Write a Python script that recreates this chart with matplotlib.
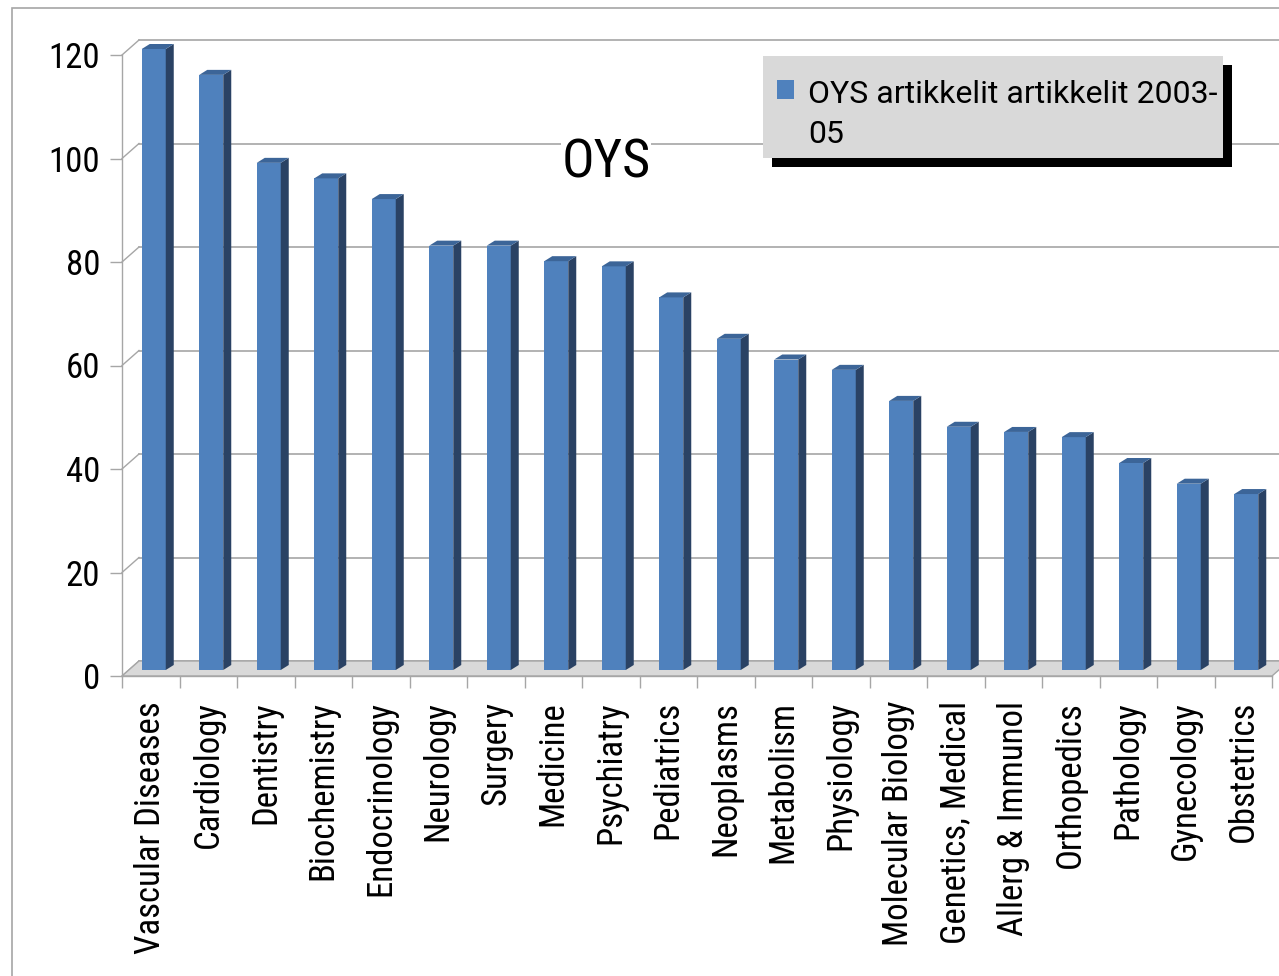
import matplotlib
matplotlib.use("Agg")
import matplotlib.pyplot as plt
from matplotlib.patches import Polygon, Rectangle
import numpy as np

categories = ["Vascular Diseases", "Cardiology", "Dentistry", "Biochemistry", "Endocrinology",
              "Neurology", "Surgery", "Medicine", "Psychiatry", "Pediatrics", "Neoplasms",
              "Metabolism", "Physiology", "Molecular Biology", "Genetics, Medical",
              "Allerg & Immunol", "Orthopedics", "Pathology", "Gynecology", "Obstetrics"]
articles = [120, 115, 98, 95, 91, 82, 82, 79, 78, 72, 64, 60, 58, 52, 47, 46, 45, 40, 36, 34]
yticks = [0, 20, 40, 60, 80, 100, 120]
series_label = "OYS artikkelit artikkelit 2003-\n05"
title = "OYS"

W, H, DPI = 1279, 976, 100
PX_X, PX_Y = 57.5, 5.175          # pixels per category / per unit on the front plane
DX, DY = 17 / PX_X, 15 / PX_Y     # depth of the back wall
B0, BSHIFT = 6 / PX_Y, 3 / PX_X   # bars sit a bit behind the front edge
BW, SDX, SDY = 24 / PX_X, 8 / PX_X, 5 / PX_Y
GRID = "#A6A6A6"
FRONT, SIDE, TOP = "#4F81BD", "#2A4264", "#3C6598"

plt.rcParams["font.family"] = ["Roboto Condensed", "DejaVu Sans"]

fig = plt.figure(figsize=(W / DPI, H / DPI), dpi=DPI)
ax = fig.add_axes([122 / W, 300 / H, 1150 / W, 621 / H])
n = len(categories)
x = np.arange(n)
ax.set_xlim(-0.5, n - 0.5)
ax.set_ylim(0, 120)

# back wall gridlines + slanted side-wall lines
for v in yticks:
    ax.plot([-0.5 + DX, n - 0.5 + DX], [v + DY, v + DY], color=GRID, lw=1.2, zorder=0.5, clip_on=False)
    ax.plot([-0.5, -0.5 + DX], [v, v + DY], color=GRID, lw=1.0, zorder=0.5, clip_on=False)

# floor
ax.add_patch(Polygon([(-0.5, 0), (n - 0.5, 0), (n - 0.5 + DX, DY), (-0.5 + DX, DY)],
                     closed=True, fc="#D9D9D9", ec=GRID, lw=1.0, zorder=1, clip_on=False))

# bars: front face from ax.bar, side + top faces from the same values
ax.bar(x + BSHIFT, articles, BW, bottom=B0, color=FRONT, zorder=3, clip_on=False)
for xi, v in zip(x, articles):
    xl, xr, top = xi + BSHIFT - BW / 2, xi + BSHIFT + BW / 2, v + B0
    ax.add_patch(Polygon([(xr, B0), (xr + SDX, B0 + SDY), (xr + SDX, top + SDY), (xr, top)],
                         closed=True, fc=SIDE, ec="none", zorder=3, clip_on=False))
    ax.add_patch(Polygon([(xl, top), (xr, top), (xr + SDX, top + SDY), (xl + SDX, top + SDY)],
                         closed=True, fc=TOP, ec="none", zorder=3, clip_on=False))

for s in ("top", "right"):
    ax.spines[s].set_visible(False)
for s in ("left", "bottom"):
    ax.spines[s].set_color(GRID)
    ax.spines[s].set_linewidth(1.0)

ax.set_yticks(yticks)
ax.tick_params(axis="y", length=8.6, width=1, color=GRID, pad=7, labelsize=25)
ax.set_xticks(x, categories, rotation=90)
ax.set_xticks(np.arange(n + 1) - 0.5, minor=True)
ax.tick_params(axis="x", which="major", length=0, pad=18, labelsize=25)
ax.tick_params(axis="x", which="minor", length=8.6, width=1, color=GRID)

fig.text(606 / W, 1 - 177 / H, title, ha="center", va="baseline", fontsize=39,
         bbox=dict(fc="white", ec="none", pad=0))

# legend box with hard black shadow
fig.patches.append(Rectangle((772 / W, 1 - 167 / H), 460 / W, 102 / H, transform=fig.transFigure,
                             fc="black", ec="none", zorder=5))
fig.patches.append(Rectangle((763 / W, 1 - 158 / H), 460 / W, 102 / H, transform=fig.transFigure,
                             fc="#D9D9D9", ec="none", zorder=6))
fig.patches.append(Rectangle((777 / W, 1 - 99 / H), 17 / W, 19 / H, transform=fig.transFigure,
                             fc=FRONT, ec="none", zorder=7))
for i, line in enumerate(series_label.split("\n")):
    fig.text(808 / W, 1 - (103 + 40 * i) / H, line, ha="left", va="baseline", fontsize=23,
             family=["Roboto", "DejaVu Sans"], zorder=8)

# chart area border
fig.patches.append(Rectangle((12 / W, -0.1), 1.2, 1.1 - 8 / H, transform=fig.transFigure,
                             fill=False, ec=GRID, lw=1.2, zorder=0))

fig.savefig("out.png", dpi=DPI)
